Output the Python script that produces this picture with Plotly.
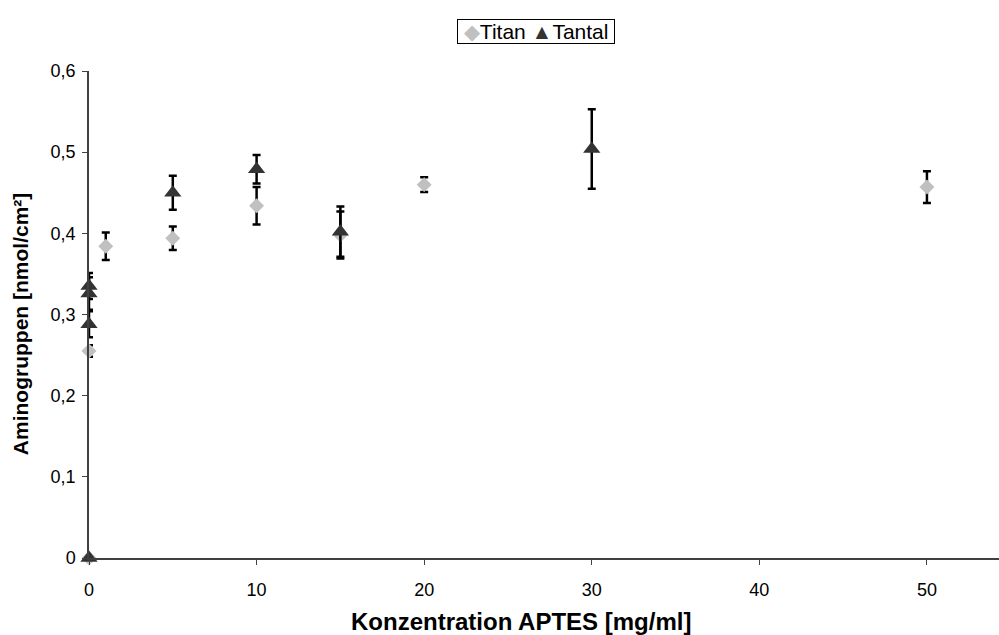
import plotly.graph_objects as go

# Data
titan_x = [0, 0, 1, 5, 10, 15, 20, 50]
titan_y = [0, 0.255, 0.384, 0.394, 0.434, 0.398, 0.460, 0.457]
titan_err = [0, 0.007, 0.017, 0.0145, 0.023, 0.029, 0.009, 0.0195]

tantal_x = [0, 0, 0, 0, 5, 10, 15, 30]
tantal_y = [0, 0.288, 0.326, 0.335, 0.450, 0.479, 0.402, 0.504]
tantal_err = [0, 0.016, 0.020, 0.016, 0.021, 0.0175, 0.031, 0.049]

x_ticks = [0, 10, 20, 30, 40, 50]
y_ticks = [0, 0.1, 0.2, 0.3, 0.4, 0.5, 0.6]

TITAN_COLOR = "#c0c0c0"
TANTAL_COLOR = "#333333"
FONT = "Arial, Liberation Sans, sans-serif"

fig = go.Figure()
fig.add_trace(go.Scatter(
    x=titan_x, y=titan_y, mode="markers", name="Titan",
    marker=dict(symbol="diamond", size=11.5, color=TITAN_COLOR),
    error_y=dict(type="data", array=titan_err, visible=True,
                 color="black", thickness=2.5, width=4),
    cliponaxis=False, showlegend=False,
))
fig.add_trace(go.Scatter(
    x=tantal_x, y=tantal_y, mode="markers", name="Tantal",
    marker=dict(symbol="triangle-up", size=15, color=TANTAL_COLOR),
    error_y=dict(type="data", array=tantal_err, visible=True,
                 color="black", thickness=2.5, width=4),
    cliponaxis=False, showlegend=False,
))

fig.update_layout(
    width=999, height=635,
    margin=dict(l=89, r=0, t=71, b=77),
    paper_bgcolor="white", plot_bgcolor="white",
    separators=", ",
    font=dict(family=FONT, size=16, color="black"),
    showlegend=False,
)
fig.update_xaxes(
    range=[0, 54.3], tickvals=x_ticks, showgrid=False, zeroline=False,
    showline=True, linecolor="#404040", linewidth=1.5,
    ticks="outside", ticklen=5, tickcolor="#404040",
    tickfont=dict(family=FONT, size=18, color="black"),
    ticklabelstandoff=10,
)
fig.update_yaxes(
    range=[0, 0.6], tickvals=y_ticks, showgrid=False, zeroline=False,
    showline=True, linecolor="#404040", linewidth=1.5,
    ticks="outside", ticklen=5, tickcolor="#404040",
    tickfont=dict(family=FONT, size=18, color="black"),
    ticklabelstandoff=3,
)
# Legend box (compact, as in the reference)
fig.add_annotation(
    text=(f"\u00a0<span style='color:{TITAN_COLOR}'>◆</span>Titan "
          f"<span style='color:{TANTAL_COLOR}'>▲</span>Tantal\u00a0"),
    xref="paper", yref="paper",
    x=(535.5 - 89) / 910, y=(557.7 - 32) / 486.7, xanchor="center", yanchor="middle",
    showarrow=False, font=dict(family=FONT, size=21, color="black"),
    bordercolor="black", borderwidth=1, borderpad=0, bgcolor="white",
)
fig.add_annotation(
    text="<b>Konzentration APTES [mg/ml]</b>", xref="paper", yref="paper",
    x=(521 - 89) / 910, y=-(621 - 557.7) / 486.7, xanchor="center", yanchor="middle",
    showarrow=False, font=dict(family=FONT, size=24, color="black"),
)
fig.add_annotation(
    text="<b>Aminogruppen [nmol/cm²]</b>", xref="paper", yref="paper",
    x=-(89 - 20) / 910, y=(557.7 - 324) / 486.7, xanchor="center", yanchor="middle",
    textangle=-90, showarrow=False, font=dict(family=FONT, size=21, color="black"),
)

fig.write_html("out.html")
